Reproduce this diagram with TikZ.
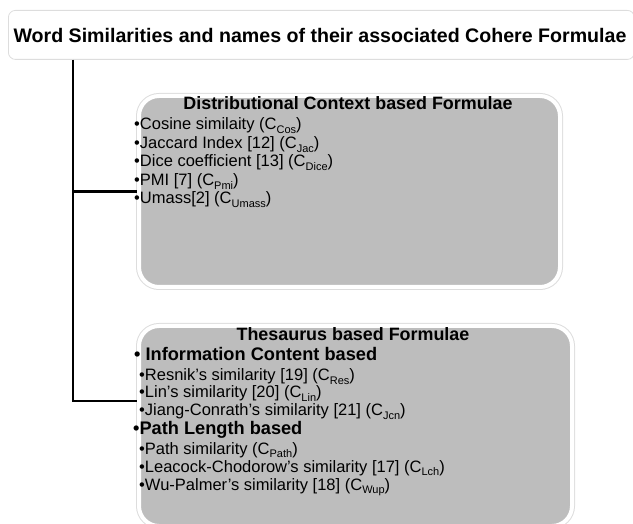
\documentclass[tikz,border=0pt]{standalone}
\usepackage{fontspec}
\setmainfont{Liberation Sans}
\newcommand{\lowsub}[1]{\raisebox{-0.35ex}{\fontsize{11}{11}\selectfont #1}}
\definecolor{boxgray}{HTML}{BDBDBD}
\definecolor{rimgray}{HTML}{DDDDDD}
\begin{document}
\begin{tikzpicture}[x=1pt,y=-1pt,
  topbox/.style={draw=rimgray, line width=0.8pt, fill=white, rounded corners=7pt, inner sep=0pt},
  graybox/.style={fill=boxgray, draw=white, line width=4pt, rounded corners=20pt, inner sep=0pt,
     preaction={draw=rimgray, line width=6pt}},
  conn/.style={line width=2.8pt, black},
  titletxt/.style={font=\fontsize{19.6}{22}\selectfont\bfseries, inner sep=0pt},
  headtxt/.style={font=\fontsize{17.9}{20}\selectfont\bfseries, inner sep=0pt},
  itemtxt/.style={font=\fontsize{16.5}{19}\selectfont, inner sep=0pt, anchor=base west},
  subhead/.style={font=\fontsize{18.2}{20}\selectfont\bfseries, inner sep=0pt, anchor=base west},
]
\useasboundingbox (0,0) rectangle (633,524);
\node[topbox, minimum width=626pt, minimum height=49pt, anchor=north west] (top) at (8,10) {};
\node[titletxt] (toptitle) at (320,35) {Word Similarities and names of their associated Cohere Formulae};

\node[graybox, minimum width=421pt, minimum height=191pt, anchor=north west] (dist) at (137,94) {};
\node[headtxt] (disttitle) at (348,103) {Distributional Context based Formulae};
\node[itemtxt] (d1) at (134,130) {\textbullet Cosine similaity (C\lowsub{Cos})};
\node[itemtxt] (d2) at (134,149) {\textbullet Jaccard Index [12] (C\lowsub{Jac})};
\node[itemtxt] (d3) at (134,167) {\textbullet Dice coefficient [13] (C\lowsub{Dice})};
\node[itemtxt] (d4) at (134,186) {\textbullet PMI [7] (C\lowsub{Pmi})};
\node[itemtxt] (d5) at (134,204) {\textbullet Umass[2] (C\lowsub{Umass})};

\node[graybox, minimum width=433pt, minimum height=200pt, anchor=north west] (thes) at (137,324) {};
\node[headtxt] (thestitle) at (353,334) {Thesaurus based Formulae};
\node[subhead] (h1) at (134,361) {\textbullet\ Information Content based};
\node[itemtxt] (t1) at (139,381) {\textbullet Resnik's similarity [19] (C\lowsub{Res})};
\node[itemtxt] (t2) at (139,398) {\textbullet Lin's similarity [20] (C\lowsub{Lin})};
\node[itemtxt] (t3) at (139,416) {\textbullet Jiang-Conrath's similarity [21] (C\lowsub{Jcn})};
\node[subhead] (h2) at (133,435) {\textbullet Path Length based};
\node[itemtxt] (t4) at (139,454) {\textbullet Path similarity (C\lowsub{Path})};
\node[itemtxt] (t5) at (139,472) {\textbullet Leacock-Chodorow's similarity [17] (C\lowsub{Lch})};
\node[itemtxt] (t6) at (139,490) {\textbullet Wu-Palmer's similarity [18] (C\lowsub{Wup})};

\coordinate (trunk) at ([xshift=65pt]top.south west);
\draw[conn] (trunk) |- (dist.west);
\draw[conn] (trunk) |- ([yshift=25pt]thes.west);
\end{tikzpicture}
\end{document}
